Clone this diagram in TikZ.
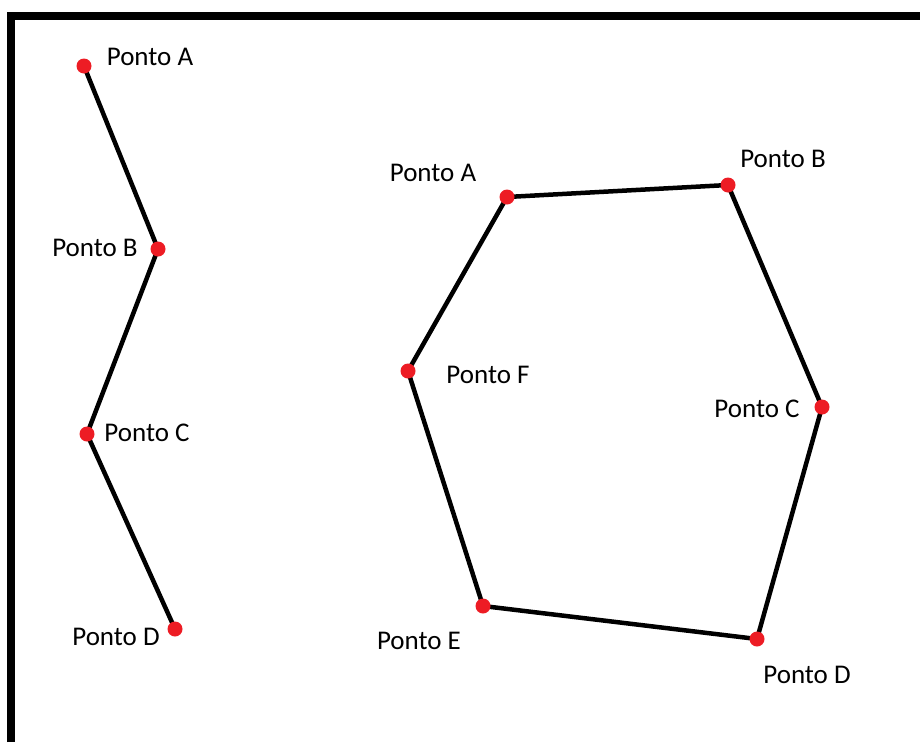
\documentclass[tikz,border=0pt]{standalone}
\usepackage{fontspec}
\setmainfont{Carlito}
\usetikzlibrary{positioning}
\definecolor{vermelho}{RGB}{237,28,36}

\begin{document}
\begin{tikzpicture}[x=1pt,y=-1pt,
ponto/.style={circle, fill=vermelho, inner sep=0pt, minimum size=15pt},
lado/.style={line width=4.5pt, draw=black},
rotulo/.style={font=\fontsize{27}{32}\selectfont, text=black, inner sep=0pt},
moldura/.style={line width=8pt, draw=black}
]
\useasboundingbox (0,0) rectangle (920,742);
% Moldura
\draw[moldura] (11,742) -- (11,16) -- (920,16);
% Linha aberta
\coordinate (lA) at (84,66);
\coordinate (lB) at (158,249);
\coordinate (lC) at (87,434);
\coordinate (lD) at (175,629);
\draw[lado] (lA) -- (lB) -- (lC) -- (lD);
\foreach \p in {lA,lB,lC,lD}
  \node[ponto] at (\p) {};
\node[rotulo] (tlA) at (150,57) {Ponto A};
\node[rotulo] (tlB) at (95,248) {Ponto B};
\node[rotulo] (tlC) at (147,433) {Ponto C};
\node[rotulo] (tlD) at (116,637) {Ponto D};
% Hexagono
\coordinate (hA) at (507,197);
\coordinate (hB) at (728,185);
\coordinate (hC) at (822,407);
\coordinate (hD) at (757,639);
\coordinate (hE) at (483,606);
\coordinate (hF) at (408,371);
\draw[lado] (hA) -- (hB) -- (hC) -- (hD) -- (hE) -- (hF) -- cycle;
\foreach \p in {hA,hB,hC,hD,hE,hF}
  \node[ponto] at (\p) {};
\node[rotulo] (thA) at (433,173) {Ponto A};
\node[rotulo] (thB) at (783,159) {Ponto B};
\node[rotulo] (thC) at (757,409) {Ponto C};
\node[rotulo] (thD) at (807,675) {Ponto D};
\node[rotulo] (thE) at (419,641) {Ponto E};
\node[rotulo] (thF) at (488,375) {Ponto F};
\end{tikzpicture}
\end{document}
